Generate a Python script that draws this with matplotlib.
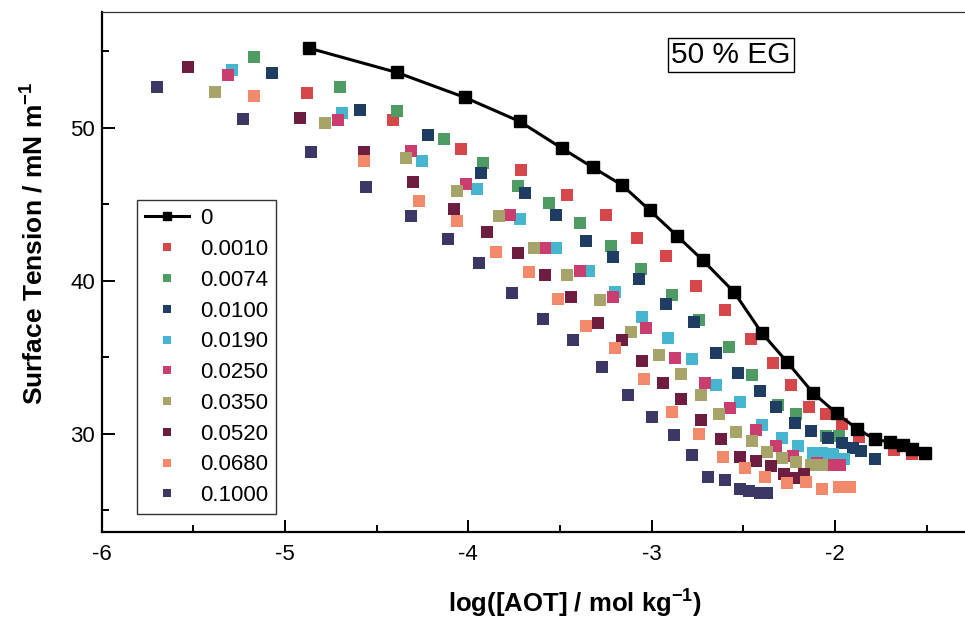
import numpy as np
import matplotlib
matplotlib.use('Agg')
import matplotlib.pyplot as plt
from matplotlib.ticker import MultipleLocator

plt.rcParams['font.family'] = ['Liberation Sans', 'DejaVu Sans']
plt.rcParams['axes.unicode_minus'] = False
plt.rcParams['mathtext.fontset'] = 'custom'
plt.rcParams['mathtext.rm'] = 'Liberation Sans'
plt.rcParams['mathtext.bf'] = 'Liberation Sans:bold'

# --- data: log([AOT]) vs surface tension (mN/m) ---
logc_0 = [-4.87, -4.39, -4.02, -3.72, -3.49, -3.32, -3.16, -3.01, -2.86, -2.72, -2.55,
          -2.40, -2.26, -2.12, -1.99, -1.88, -1.78, -1.70, -1.63, -1.58, -1.51]
st_0 = [55.20, 53.61, 51.98, 50.41, 48.66, 47.40, 46.24, 44.60, 42.92, 41.33, 39.26,
        36.61, 34.68, 32.68, 31.33, 30.33, 29.63, 29.45, 29.24, 29.02, 28.71]

logc_0010 = [-4.88, -4.41, -4.04, -3.71, -3.46, -3.25, -3.08, -2.92, -2.76, -2.60,
             -2.46, -2.34, -2.24, -2.14, -2.05, -1.96, -1.87, -1.68, -1.58]
st_0010 = [52.24, 50.51, 48.59, 47.22, 45.61, 44.28, 42.79, 41.60, 39.65, 38.08,
           36.21, 34.64, 33.16, 31.75, 31.31, 30.61, 29.81, 28.97, 28.65]

logc_0074 = [-5.17, -4.70, -4.39, -4.13, -3.92, -3.73, -3.56, -3.39, -3.22, -3.06,
             -2.89, -2.74, -2.58, -2.45, -2.31, -2.21, -2.05, -1.98]
st_0074 = [54.60, 52.63, 51.08, 49.25, 47.68, 46.22, 45.11, 43.80, 42.27, 40.75,
           39.06, 37.41, 35.69, 33.83, 31.85, 31.26, 29.84, 29.84]

logc_0100 = [-5.07, -4.59, -4.22, -3.93, -3.69, -3.52, -3.36, -3.21, -3.07, -2.92, -2.77,
             -2.65, -2.53, -2.41, -2.32, -2.22, -2.13, -2.04, -1.96, -1.90, -1.86, -1.78]
st_0100 = [53.54, 51.14, 49.51, 47.07, 45.70, 44.28, 42.60, 41.58, 40.09, 38.50, 37.33,
           35.30, 33.99, 32.79, 31.72, 30.67, 30.17, 29.74, 29.41, 29.08, 28.86, 28.38]

logc_0190 = [-5.29, -4.69, -4.25, -3.95, -3.72, -3.52, -3.34, -3.20, -3.05, -2.91,
             -2.78, -2.65, -2.52, -2.40, -2.29, -2.20, -2.12, -2.07, -2.01, -1.95]
st_0190 = [53.76, 50.93, 47.79, 45.96, 44.00, 42.16, 40.65, 39.27, 37.64, 36.28,
           34.91, 33.16, 32.07, 30.54, 29.74, 29.19, 28.76, 28.76, 28.65, 28.32]

logc_0250 = [-5.31, -4.71, -4.31, -4.01, -3.77, -3.58, -3.39, -3.21, -3.03, -2.87,
             -2.71, -2.57, -2.43, -2.32, -2.23, -2.10, -2.04, -1.97]
st_0250 = [53.43, 50.51, 48.45, 46.29, 44.28, 42.16, 40.65, 38.93, 36.89, 34.97,
           33.29, 31.65, 30.23, 29.17, 28.56, 28.10, 27.99, 27.99]

logc_0350 = [-5.38, -4.78, -4.34, -4.06, -3.83, -3.64, -3.46, -3.28, -3.11, -2.96,
             -2.84, -2.73, -2.63, -2.54, -2.45, -2.37, -2.29, -2.21, -2.13, -2.07]
st_0350 = [52.34, 50.29, 48.01, 45.85, 44.23, 42.16, 40.37, 38.76, 36.63, 35.14,
           33.88, 32.52, 31.26, 30.13, 29.52, 28.81, 28.43, 28.16, 27.93, 27.93]

logc_0520 = [-5.53, -4.92, -4.57, -4.30, -4.08, -3.90, -3.73, -3.58, -3.44, -3.29, -3.16,
             -3.05, -2.94, -2.84, -2.73, -2.62, -2.52, -2.43, -2.35, -2.28, -2.22, -2.17]
st_0520 = [53.94, 50.62, 48.42, 46.47, 44.66, 43.21, 41.78, 40.37, 38.93, 37.25, 36.12,
           34.77, 33.34, 32.24, 30.89, 29.67, 28.48, 28.20, 27.89, 27.34, 27.12, 27.34]

logc_0680 = [-5.17, -4.57, -4.27, -4.06, -3.85, -3.67, -3.51, -3.36, -3.20, -3.04,
             -2.89, -2.74, -2.61, -2.49, -2.38, -2.26, -2.16, -2.07, -1.98, -1.92]
st_0680 = [52.08, 47.85, 45.23, 43.87, 41.88, 40.57, 38.83, 37.04, 35.58, 33.55,
           31.44, 30.00, 28.48, 27.78, 27.19, 26.76, 26.82, 26.36, 26.49, 26.49]

logc_1000 = [-5.70, -5.23, -4.86, -4.56, -4.31, -4.11, -3.94, -3.76, -3.59, -3.43, -3.27,
             -3.13, -3.00, -2.88, -2.78, -2.69, -2.60, -2.52, -2.47, -2.41, -2.37]
st_1000 = [52.63, 50.56, 48.42, 46.14, 44.23, 42.75, 41.14, 39.22, 37.52, 36.10, 34.38,
           32.56, 31.11, 29.89, 28.60, 27.17, 27.01, 26.40, 26.25, 26.14, 26.14]

labels = ['0.0010', '0.0074', '0.0100', '0.0190', '0.0250',
          '0.0350', '0.0520', '0.0680', '0.1000']
xs = [logc_0010, logc_0074, logc_0100, logc_0190, logc_0250,
      logc_0350, logc_0520, logc_0680, logc_1000]
ys = [st_0010, st_0074, st_0100, st_0190, st_0250,
      st_0350, st_0520, st_0680, st_1000]
colors = ['#d6474b', '#4e9b63', '#1f3c62', '#46b5d0', '#c93d6f',
          '#a7a46a', '#6d1e40', '#f2896a', '#3b3866']

fig = plt.figure(figsize=(9.65, 6.22), dpi=100)
ax = fig.add_axes([0.1054, 0.1452, 0.8946, 0.8353])

# pure solvent: line + squares
ax.plot(logc_0, st_0, color='black', lw=2.2, marker='s', ms=8.5,
        label='0', zorder=5)

for lab, x, y, c in zip(labels, xs, ys, colors):
    ax.plot(x, y, ls='none', marker='s', ms=8.5, color=c, mec=c, mew=0,
            label=lab, zorder=3)

ax.set_xlim(-6.0, -1.29)
ax.set_ylim(23.6, 57.55)

ax.xaxis.set_major_locator(MultipleLocator(1))
ax.xaxis.set_minor_locator(MultipleLocator(0.5))
ax.yaxis.set_major_locator(MultipleLocator(10))
ax.yaxis.set_minor_locator(MultipleLocator(5))
ax.tick_params(which='both', direction='in', top=False, right=False,
               labelsize=16, width=1.4)
ax.tick_params(which='major', length=9)
ax.tick_params(which='minor', length=5)
ax.tick_params(axis='x', pad=9)
ax.tick_params(axis='y', pad=5)

ax.spines['right'].set_visible(False)
ax.spines['left'].set_linewidth(1.6)
ax.spines['bottom'].set_linewidth(1.6)
ax.spines['top'].set_linewidth(0.9)
ax.spines['top'].set_color('#333333')

ax.set_xlabel(r'log([AOT] / mol kg$^{\mathbf{-1}}$)', fontsize=18.5,
              fontweight='bold')
ax.set_ylabel(r'Surface Tension / mN m$^{\mathbf{-1}}$', fontsize=19,
              fontweight='bold')
ax.xaxis.set_label_coords(0.548, -0.105)
ax.yaxis.set_label_coords(-0.063, 0.555)

ax.text(0.729, 0.918, '50 % EG', transform=ax.transAxes, fontsize=21.5,
        ha='center', va='center',
        bbox=dict(boxstyle='square,pad=0.1', fc='white', ec='black', lw=1))

leg = ax.legend(loc='lower left', bbox_to_anchor=(0.041, 0.034), fontsize=16,
                frameon=True, fancybox=False, edgecolor='black',
                handlelength=2.0, handletextpad=0.5, labelspacing=0.44,
                borderpad=0.35, markerscale=0.65, borderaxespad=0)
leg.get_frame().set_linewidth(1.0)

fig.savefig('out.png', dpi=100)
